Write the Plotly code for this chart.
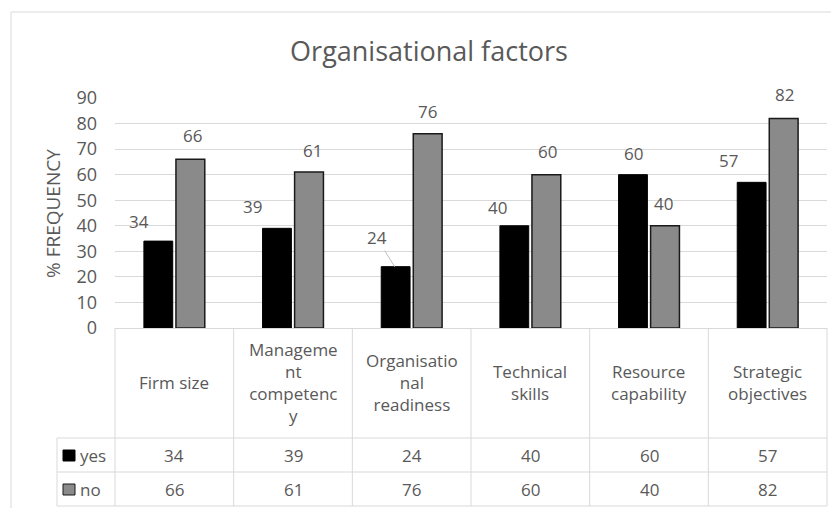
import plotly.graph_objects as go

# ---- data ----
categories = ["Firm size", "Management competency", "Organisational readiness",
              "Technical skills", "Resource capability", "Strategic objectives"]
category_labels = ["Firm size", "Manageme<br>nt<br>competenc<br>y", "Organisatio<br>nal<br>readiness",
                   "Technical<br>skills", "Resource<br>capability", "Strategic<br>objectives"]
yes_values = [34, 39, 24, 40, 60, 57]
no_values = [66, 61, 76, 60, 40, 82]
series_names = ["yes", "no"]
y_ticks = [0, 10, 20, 30, 40, 50, 60, 70, 80, 90]

# ---- label offsets (pixels, relative to category centre / bar top) ----
yes_label_dx = [-35, -41, -35, -33, -16, -39]
yes_label_dy = [20, 22, 29, 18, 21, 22]
no_label_dx = [18, 19, 16, 17, 14, 17]
no_label_dy = [24, 22, 22, 23, 22, 24]

# ---- layout geometry (window pixels; page body has an 8px margin) ----
PAGE_OFF = 8
WIN_W, WIN_H = 839, 508
FW, FH = WIN_W - PAGE_OFF, WIN_H - PAGE_OFF
L, R, T, B = 115, 827, 98, 328
W, H = R - L, B - T
def px(x):
    return (x - L) / W
def py(y):
    return (B - y) / H

TXT = "#595959"
GRID = "#d9d9d9"
FONT = "Open Sans"

fig = go.Figure()
fig.add_trace(go.Bar(x=categories, y=yes_values, name=series_names[0],
                     marker=dict(color="#000000", line=dict(color="#000000", width=1))))
fig.add_trace(go.Bar(x=categories, y=no_values, name=series_names[1],
                     marker=dict(color="#8a8a8a", line=dict(color="#1a1a1a", width=1.5))))

ann = []
shapes = []
ncat = len(categories)
lab_font = dict(size=17, color=TXT, family=FONT)
tab_font = dict(size=17, color=TXT, family=FONT)
for i, c in enumerate(categories):
    # yes labels
    if yes_label_dy[i] > 25:
        ann.append(dict(x=c, y=yes_values[i], xref="x", yref="y", text=str(yes_values[i]),
                        showarrow=True, arrowhead=0, arrowwidth=1, arrowcolor="#bfbfbf",
                        xshift=-17, ax=-18, ay=-yes_label_dy[i], standoff=0,
                        xanchor="center", yanchor="middle", font=lab_font))
    else:
        ann.append(dict(x=c, y=yes_values[i], xref="x", yref="y", text=str(yes_values[i]),
                        showarrow=False, xshift=yes_label_dx[i], yshift=yes_label_dy[i],
                        xanchor="center", yanchor="middle", font=lab_font))
    ann.append(dict(x=c, y=no_values[i], xref="x", yref="y", text=str(no_values[i]),
                    showarrow=False, xshift=no_label_dx[i], yshift=no_label_dy[i],
                    xanchor="center", yanchor="middle", font=lab_font))
    # table header labels
    ann.append(dict(x=c, y=py(382), xref="x", yref="paper", text=category_labels[i],
                    showarrow=False, xanchor="center", yanchor="middle", align="center",
                    font=tab_font))
    # table values
    ann.append(dict(x=c, y=py(455), xref="x", yref="paper", text=str(yes_values[i]),
                    showarrow=False, xanchor="center", yanchor="middle", font=tab_font))
    ann.append(dict(x=c, y=py(489), xref="x", yref="paper", text=str(no_values[i]),
                    showarrow=False, xanchor="center", yanchor="middle", font=tab_font))

# legend text in table
ann.append(dict(x=px(78), y=py(455), xref="paper", yref="paper", text=series_names[0],
                xanchor="left", yanchor="middle", showarrow=False, font=tab_font))
ann.append(dict(x=px(78), y=py(489), xref="paper", yref="paper", text=series_names[1],
                xanchor="left", yanchor="middle", showarrow=False, font=tab_font))
# y-axis title
ann.append(dict(x=px(53), y=py(214), xref="paper", yref="paper", text="% FREQUENCY",
                textangle=-90, xanchor="center", yanchor="middle", showarrow=False,
                font=dict(size=19, color=TXT, family=FONT)))

# table lines
for k in range(ncat + 1):
    shapes.append(dict(type="line", xref="paper", yref="paper", x0=k / ncat, x1=k / ncat,
                       y0=py(B), y1=py(506), line=dict(color=GRID, width=1)))
for yy in (438, 472, 506):
    shapes.append(dict(type="line", xref="paper", yref="paper", x0=px(57), x1=1,
                       y0=py(yy), y1=py(yy), line=dict(color=GRID, width=1)))
shapes.append(dict(type="line", xref="paper", yref="paper", x0=px(57), x1=px(57),
                   y0=py(438), y1=py(506), line=dict(color=GRID, width=1)))
# legend keys
shapes.append(dict(type="rect", xref="paper", yref="paper", x0=px(63), x1=px(75),
                   y0=py(461), y1=py(450), fillcolor="#000000", line=dict(color="#000000", width=1)))
shapes.append(dict(type="rect", xref="paper", yref="paper", x0=px(63), x1=px(75),
                   y0=py(495), y1=py(484), fillcolor="#8a8a8a", line=dict(color="#1a1a1a", width=1)))
# outer chart border
shapes.append(dict(type="rect", xref="paper", yref="paper", x0=px(11), x1=px(845),
                   y0=py(520), y1=py(12), line=dict(color=GRID, width=1), fillcolor="rgba(0,0,0,0)",
                   layer="below"))

fig.update_layout(
    width=FW, height=FH,
    margin=dict(l=L - PAGE_OFF, r=WIN_W - R, t=T - PAGE_OFF, b=WIN_H - B, pad=0),
    paper_bgcolor="white", plot_bgcolor="white",
    barmode="group", bargap=0.46, bargroupgap=0.1,
    showlegend=False,
    title=dict(text="Organisational factors", x=px(429), xref="paper", xanchor="center",
               y=1 - (52 - PAGE_OFF) / FH, yref="container", yanchor="middle",
               font=dict(size=27, color=TXT, family=FONT)),
    xaxis=dict(range=[-0.5, ncat - 0.5], showticklabels=False, showgrid=False,
               zeroline=False, showline=False, ticks=""),
    yaxis=dict(range=[0, 90], tickvals=y_ticks, showgrid=True, gridcolor=GRID, gridwidth=1,
               zeroline=True, zerolinecolor=GRID, zerolinewidth=1, showline=False, ticks="",
               ticklabelstandoff=17, tickfont=dict(size=18, color=TXT, family=FONT)),
    annotations=ann,
    shapes=shapes,
    font=dict(family=FONT, color=TXT),
)

fig.write_html("out.html")
